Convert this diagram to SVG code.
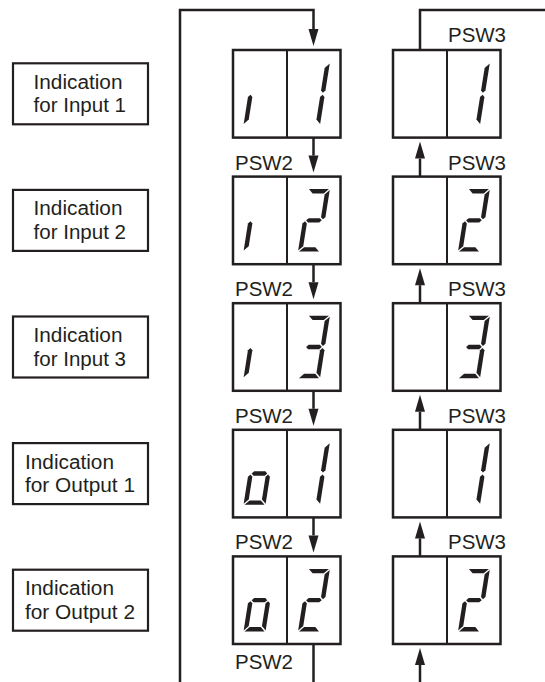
<svg xmlns="http://www.w3.org/2000/svg" width="545" height="682" viewBox="0 0 545 682">
<style>
.box{fill:#fff;stroke:#231f20;stroke-width:2.5}
.div{stroke:#231f20;stroke-width:2}
.lbl{fill:#fff;stroke:#231f20;stroke-width:2.2}
.conn{fill:none;stroke:#231f20;stroke-width:2.5}
.t{font-family:"Liberation Sans",Arial,sans-serif;font-size:19.5px;fill:#231f20}
.seg{fill:#231f20}
</style>
<defs>
<marker id="ah" markerUnits="userSpaceOnUse" markerWidth="17" markerHeight="10" refX="0" refY="5" orient="auto" overflow="visible">
<path d="M0,0 L17,5 L0,10 z" fill="#231f20"/>
</marker>
<polygon id="sa" class="seg" points="1,0 21,0 16.6,4.4 5.4,4.4"/>
<polygon id="sb" class="seg" points="22,1 22,28.05 19.8,30.25 17.6,28.05 17.6,5.4"/>
<polygon id="sc" class="seg" points="19.8,32.25 22,34.45 22,61.5 17.6,57.1 17.6,34.45"/>
<polygon id="sd" class="seg" points="1,62.5 21,62.5 16.6,58.1 5.4,58.1"/>
<polygon id="se" class="seg" points="2.2,32.25 0,34.45 0,61.5 4.4,57.1 4.4,34.45"/>
<polygon id="sg" class="seg" points="3.2,31.25 5.4,29.05 16.6,29.05 18.8,31.25 16.6,33.45 5.4,33.45"/>
<g id="dig-i"><use href="#se"/></g>
<g id="dig-o"><use href="#sc"/><use href="#sd"/><use href="#se"/><use href="#sg"/></g>
<g id="dig-1"><use href="#sb"/><use href="#sc"/></g>
<g id="dig-2"><use href="#sa"/><use href="#sb"/><use href="#sg"/><use href="#se"/><use href="#sd"/></g>
<g id="dig-3"><use href="#sa"/><use href="#sb"/><use href="#sg"/><use href="#sc"/><use href="#sd"/></g>
</defs>
<rect width="545" height="682" fill="#fff"/>

<g id="connectors">
<path class="conn" d="M180,682 V10 H313.5 V29" marker-end="url(#ah)"/>
<path class="conn" d="M313.5,137.6 V155.6" marker-end="url(#ah)"/>
<path class="conn" d="M313.5,264.2 V282.2" marker-end="url(#ah)"/>
<path class="conn" d="M313.5,390.8 V408.8" marker-end="url(#ah)"/>
<path class="conn" d="M313.5,517.4 V535.4" marker-end="url(#ah)"/>
<path class="conn" d="M313.5,644 V682"/>
<path class="conn" d="M545,10 H420 V50"/>
<path class="conn" d="M420,176.6 V158.6" marker-end="url(#ah)"/>
<path class="conn" d="M420,303.2 V285.2" marker-end="url(#ah)"/>
<path class="conn" d="M420,429.8 V411.8" marker-end="url(#ah)"/>
<path class="conn" d="M420,556.4 V538.4" marker-end="url(#ah)"/>
<path class="conn" d="M420,682 V665" marker-end="url(#ah)"/>
<text class="t" x="235" y="169.6" textLength="58" lengthAdjust="spacingAndGlyphs">PSW2</text>
<text class="t" x="235" y="296.2" textLength="58" lengthAdjust="spacingAndGlyphs">PSW2</text>
<text class="t" x="235" y="422.8" textLength="58" lengthAdjust="spacingAndGlyphs">PSW2</text>
<text class="t" x="235" y="549.4" textLength="58" lengthAdjust="spacingAndGlyphs">PSW2</text>
<text class="t" x="235" y="669" textLength="58" lengthAdjust="spacingAndGlyphs">PSW2</text>
<text class="t" x="448" y="42" textLength="58" lengthAdjust="spacingAndGlyphs">PSW3</text>
<text class="t" x="448" y="169.6" textLength="58" lengthAdjust="spacingAndGlyphs">PSW3</text>
<text class="t" x="448" y="296.2" textLength="58" lengthAdjust="spacingAndGlyphs">PSW3</text>
<text class="t" x="448" y="422.8" textLength="58" lengthAdjust="spacingAndGlyphs">PSW3</text>
<text class="t" x="448" y="549.4" textLength="58" lengthAdjust="spacingAndGlyphs">PSW3</text>
</g>

<g id="label-input1">
<rect class="lbl" x="13" y="63.3" width="135" height="61"/>
<text class="t" x="33.5" y="88.8" textLength="89" lengthAdjust="spacingAndGlyphs">Indication</text>
<text class="t" x="33.5" y="112.3" textLength="92.5" lengthAdjust="spacingAndGlyphs">for Input 1</text>
</g>
<g id="label-input2">
<rect class="lbl" x="13" y="189.9" width="135" height="61"/>
<text class="t" x="33.5" y="215.4" textLength="89" lengthAdjust="spacingAndGlyphs">Indication</text>
<text class="t" x="33.5" y="238.9" textLength="92.5" lengthAdjust="spacingAndGlyphs">for Input 2</text>
</g>
<g id="label-input3">
<rect class="lbl" x="13" y="316.5" width="135" height="61"/>
<text class="t" x="33.5" y="342" textLength="89" lengthAdjust="spacingAndGlyphs">Indication</text>
<text class="t" x="33.5" y="365.5" textLength="92.5" lengthAdjust="spacingAndGlyphs">for Input 3</text>
</g>
<g id="label-output1">
<rect class="lbl" x="13" y="443.1" width="135" height="61"/>
<text class="t" x="25" y="468.6" textLength="89" lengthAdjust="spacingAndGlyphs">Indication</text>
<text class="t" x="25" y="492.1" textLength="110" lengthAdjust="spacingAndGlyphs">for Output 1</text>
</g>
<g id="label-output2">
<rect class="lbl" x="13" y="569.7" width="135" height="61"/>
<text class="t" x="25" y="595.2" textLength="89" lengthAdjust="spacingAndGlyphs">Indication</text>
<text class="t" x="25" y="618.7" textLength="110" lengthAdjust="spacingAndGlyphs">for Output 2</text>
</g>

<g id="psw2-input1">
<rect class="box" x="233" y="50" width="107.5" height="87.6"/>
<line class="div" x1="287" y1="50" x2="287" y2="137.6"/>
<use href="#dig-i" transform="translate(243.5,125) skewX(-9) translate(0,-62.5)"/>
<use href="#dig-1" transform="translate(298,125) skewX(-9) translate(0,-62.5)"/>
</g>
<g id="psw3-input1">
<rect class="box" x="393" y="50" width="107.5" height="87.6"/>
<line class="div" x1="447" y1="50" x2="447" y2="137.6"/>
<use href="#dig-1" transform="translate(458,125) skewX(-9) translate(0,-62.5)"/>
</g>

<g id="psw2-input2">
<rect class="box" x="233" y="176.6" width="107.5" height="87.6"/>
<line class="div" x1="287" y1="176.6" x2="287" y2="264.2"/>
<use href="#dig-i" transform="translate(243.5,251.6) skewX(-9) translate(0,-62.5)"/>
<use href="#dig-2" transform="translate(298,251.6) skewX(-9) translate(0,-62.5)"/>
</g>
<g id="psw3-input2">
<rect class="box" x="393" y="176.6" width="107.5" height="87.6"/>
<line class="div" x1="447" y1="176.6" x2="447" y2="264.2"/>
<use href="#dig-2" transform="translate(458,251.6) skewX(-9) translate(0,-62.5)"/>
</g>

<g id="psw2-input3">
<rect class="box" x="233" y="303.2" width="107.5" height="87.6"/>
<line class="div" x1="287" y1="303.2" x2="287" y2="390.8"/>
<use href="#dig-i" transform="translate(243.5,378.2) skewX(-9) translate(0,-62.5)"/>
<use href="#dig-3" transform="translate(298,378.2) skewX(-9) translate(0,-62.5)"/>
</g>
<g id="psw3-input3">
<rect class="box" x="393" y="303.2" width="107.5" height="87.6"/>
<line class="div" x1="447" y1="303.2" x2="447" y2="390.8"/>
<use href="#dig-3" transform="translate(458,378.2) skewX(-9) translate(0,-62.5)"/>
</g>

<g id="psw2-output1">
<rect class="box" x="233" y="429.8" width="107.5" height="87.6"/>
<line class="div" x1="287" y1="429.8" x2="287" y2="517.4"/>
<use href="#dig-o" transform="translate(243.5,504.8) skewX(-9) translate(0,-62.5)"/>
<use href="#dig-1" transform="translate(298,504.8) skewX(-9) translate(0,-62.5)"/>
</g>
<g id="psw3-output1">
<rect class="box" x="393" y="429.8" width="107.5" height="87.6"/>
<line class="div" x1="447" y1="429.8" x2="447" y2="517.4"/>
<use href="#dig-1" transform="translate(458,504.8) skewX(-9) translate(0,-62.5)"/>
</g>

<g id="psw2-output2">
<rect class="box" x="233" y="556.4" width="107.5" height="87.6"/>
<line class="div" x1="287" y1="556.4" x2="287" y2="644"/>
<use href="#dig-o" transform="translate(243.5,631.4) skewX(-9) translate(0,-62.5)"/>
<use href="#dig-2" transform="translate(298,631.4) skewX(-9) translate(0,-62.5)"/>
</g>
<g id="psw3-output2">
<rect class="box" x="393" y="556.4" width="107.5" height="87.6"/>
<line class="div" x1="447" y1="556.4" x2="447" y2="644"/>
<use href="#dig-2" transform="translate(458,631.4) skewX(-9) translate(0,-62.5)"/>
</g>
</svg>
